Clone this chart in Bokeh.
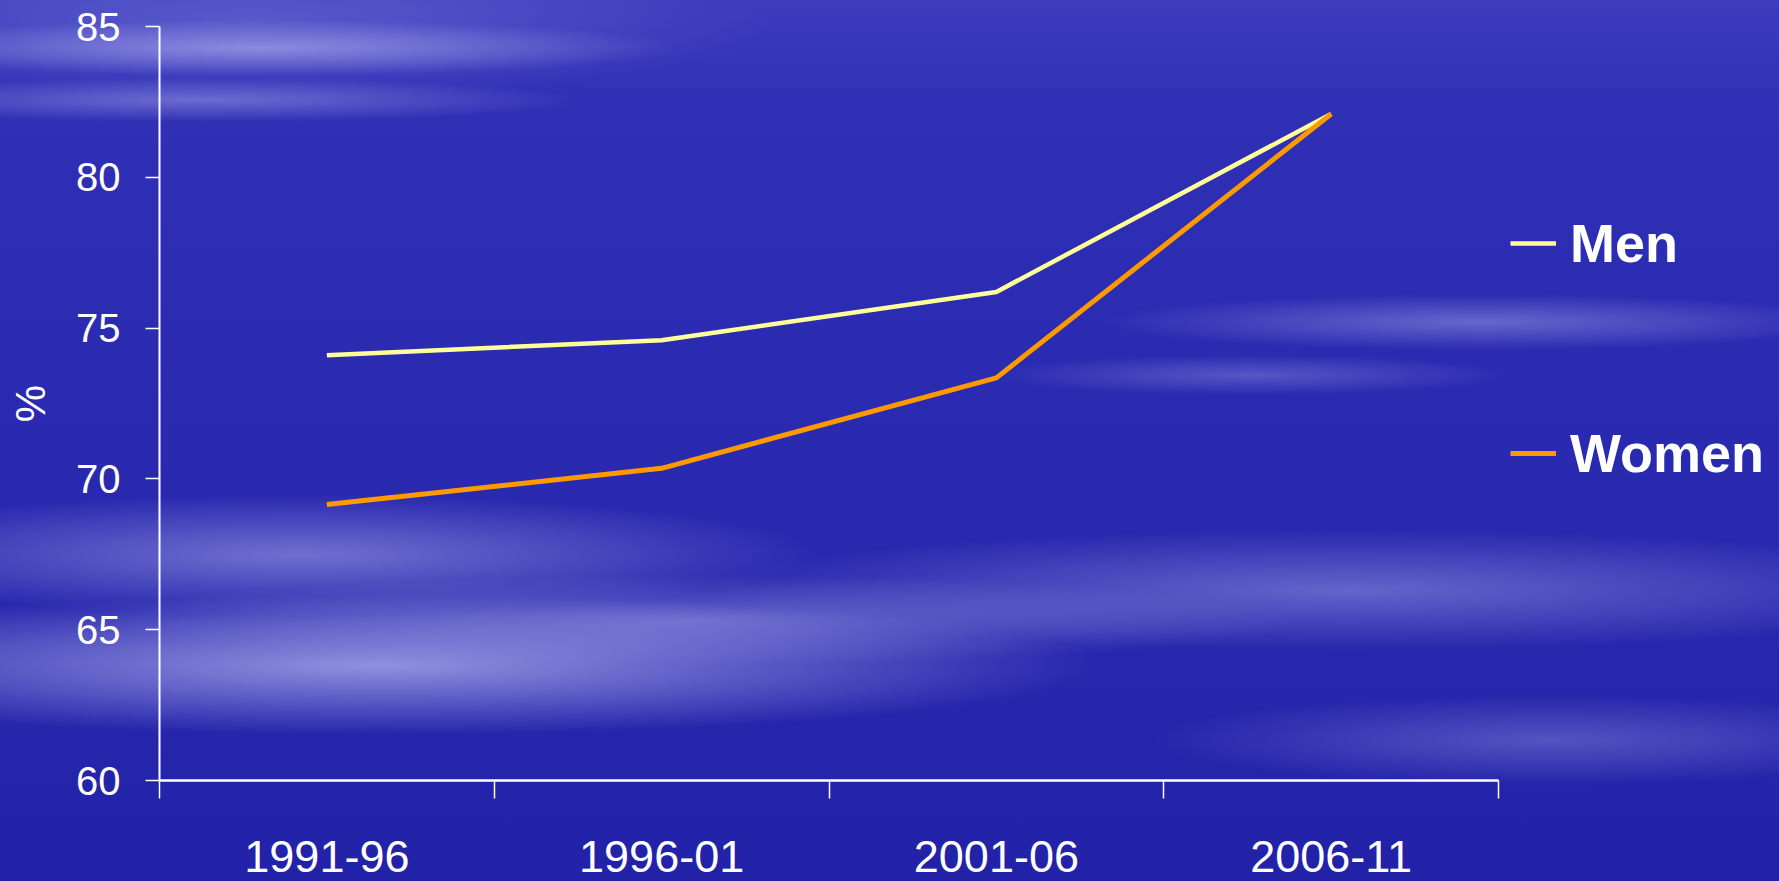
from bokeh.plotting import figure
from bokeh.models import Range1d, FixedTicker, Legend, LegendItem
from bokeh.embed import file_html
from bokeh.resources import INLINE

# ---- data ----
periods = ["1991-96", "1996-01", "2001-06", "2006-11"]
men = [74.1, 74.6, 76.2, 82.1]
women = [69.15, 70.35, 73.35, 82.1]
y_ticks = [60, 65, 70, 75, 80, 85]
y_label = "%"

# category centres (numeric axis so ticks can sit between categories)
n = len(periods)
xs = [i + 0.5 for i in range(n)]
bounds = list(range(n + 1))

FONT = "Liberation Sans"

# plot frame runs to the right edge (room for the legend); axis is bounded to the categories
FRAME_LEFT, AXIS_W, FIG_W = 159, 1339, 1779
x_end = n * (FIG_W - FRAME_LEFT) / AXIS_W

p = figure(width=FIG_W, height=890, output_backend="svg", toolbar_location=None,
           x_range=Range1d(0, x_end), y_range=Range1d(y_ticks[0], y_ticks[-1]),
           min_border_left=FRAME_LEFT, min_border_right=0, min_border_top=26,
           min_border_bottom=110)
p.background_fill_alpha = 0
p.border_fill_alpha = 0
p.outline_line_color = None
p.grid.visible = False

r_men = p.line(xs, men, line_color="#ffff99", line_width=4.5)
r_women = p.line(xs, women, line_color="#ff9900", line_width=5)

# x axis
xa = p.xaxis[0]
xa.bounds = (0, n)
xa.ticker = FixedTicker(ticks=xs, minor_ticks=bounds)
xa.major_label_overrides = {x: lab for x, lab in zip(xs, periods)}
xa.major_tick_out = 0
xa.major_tick_in = 0
xa.minor_tick_out = 18
xa.minor_tick_in = 0
xa.minor_tick_line_color = "white"
xa.minor_tick_line_width = 1.5
xa.axis_line_color = "white"
xa.axis_line_width = 2.5
xa.major_label_text_color = "white"
xa.major_label_text_font = FONT
xa.major_label_text_font_size = "45px"
xa.major_label_standoff = 42

# y axis
ya = p.yaxis[0]
ya.ticker = FixedTicker(ticks=y_ticks, minor_ticks=[])
ya.major_tick_out = 14
ya.major_tick_in = 0
ya.major_tick_line_color = "white"
ya.major_tick_line_width = 1.5
ya.axis_line_color = "white"
ya.axis_line_width = 2
ya.major_label_text_color = "white"
ya.major_label_text_font = FONT
ya.major_label_text_font_size = "40px"
ya.major_label_standoff = 25
ya.axis_label = y_label
ya.axis_label_text_color = "white"
ya.axis_label_text_font = FONT
ya.axis_label_text_font_style = "normal"
ya.axis_label_text_font_size = "42px"
ya.axis_label_standoff = 19

legend = Legend(items=[LegendItem(label="Men", renderers=[r_men]),
                       LegendItem(label="Women", renderers=[r_women])],
                location=(1351, 296), padding=0, margin=0,
                glyph_width=46, glyph_height=62, label_height=62,
                label_standoff=14, spacing=148,
                border_line_alpha=0, background_fill_alpha=0,
                label_text_color="white", label_text_font=FONT,
                label_text_font_style="bold", label_text_font_size="54px")
p.add_layout(legend, "center")

css = """
html, body {
  overflow: hidden;
  background-color: #2b2bb0;
  background-image:
    radial-gradient(ellipse 420px 28px at 260px 48px, rgba(190,190,245,0.55), rgba(190,190,245,0)),
    radial-gradient(ellipse 380px 22px at 200px 100px, rgba(180,180,240,0.45), rgba(180,180,240,0)),
    radial-gradient(ellipse 520px 80px at 250px 20px, rgba(110,110,215,0.6), rgba(110,110,215,0)),
    radial-gradient(ellipse 520px 60px at 300px 555px, rgba(170,170,235,0.55), rgba(170,170,235,0)),
    radial-gradient(ellipse 720px 70px at 380px 665px, rgba(180,180,240,0.75), rgba(180,180,240,0)),
    radial-gradient(ellipse 600px 45px at 700px 620px, rgba(160,160,230,0.5), rgba(160,160,230,0)),
    radial-gradient(ellipse 650px 60px at 1350px 590px, rgba(160,160,230,0.5), rgba(160,160,230,0)),
    radial-gradient(ellipse 380px 28px at 1480px 322px, rgba(150,150,225,0.55), rgba(150,150,225,0)),
    radial-gradient(ellipse 260px 20px at 1250px 375px, rgba(140,140,220,0.45), rgba(140,140,220,0)),
    radial-gradient(ellipse 400px 45px at 1550px 740px, rgba(140,140,220,0.45), rgba(140,140,220,0)),
    linear-gradient(to bottom, #3c3cbc 0%, #3030b6 12%, #2b2bb2 40%, #2828ae 70%, #2222a8 100%);
}
"""
template = "{% block preamble %}<style>" + css + "</style>{% endblock %}"

open("out.html", "w").write(file_html(p, INLINE, template=template))
